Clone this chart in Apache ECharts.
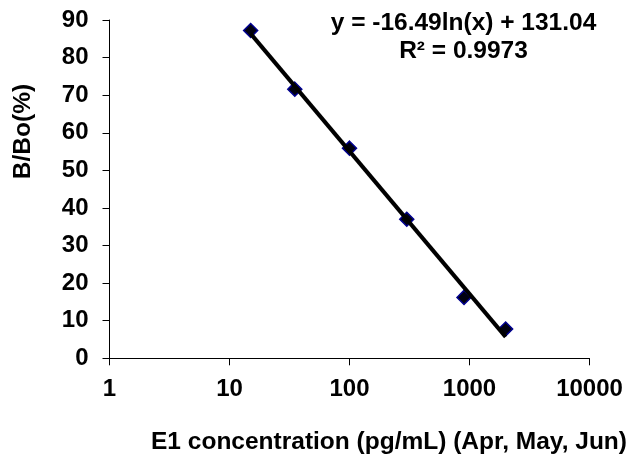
<!DOCTYPE html>
<html>
<head>
<meta charset="utf-8">
<script src="https://cdn.jsdelivr.net/npm/echarts@6/dist/echarts.min.js"></script>
<style>
  html, body { margin: 0; padding: 0; background: #fff; }
  #chart { width: 635px; height: 461px; }
</style>
</head>
<body>
<div id="chart"></div>
<script>
// Standard curve: E1 concentration vs. B/Bo
const concentrations = [15, 35, 100, 300, 900, 2000];
const bBoPercent = [87.2, 71.6, 55.9, 37.0, 16.2, 7.8];
const xTickLabels = ['1', '10', '100', '1000', '10000'];
const yTickLabels = ['0', '10', '20', '30', '40', '50', '60', '70', '80', '90'];

// Logarithmic fit y = a*ln(x) + b
const fitSlope = -16.49;
const fitIntercept = 131.04;
const fitR2 = 0.9973;

const FONT = '"Liberation Sans", Arial, sans-serif';
const TITLE_FONT = 'bold 24.5px ' + FONT;

const xMin = Math.min(...concentrations);
const xMax = Math.max(...concentrations);
const fitLine = [xMin, xMax].map(x => [x, fitSlope * Math.log(x) + fitIntercept]);

const chart = echarts.init(document.getElementById('chart'), null, { renderer: 'canvas' });
chart.setOption({
  animation: false,
  backgroundColor: '#fff',
  grid: { left: 109.5, right: 45.5, top: 20, bottom: 102.7, containLabel: false },
  xAxis: {
    type: 'log',
    logBase: 10,
    min: 1,
    max: 10000,
    axisLine: { show: true, lineStyle: { color: '#000', width: 1 } },
    axisTick: { show: true, inside: false, length: 7, lineStyle: { color: '#000', width: 1 } },
    minorTick: { show: false },
    splitLine: { show: false },
    axisLabel: {
      margin: 19,
      color: '#000',
      fontFamily: FONT,
      fontWeight: 'bold',
      fontSize: 24,
      formatter: v => xTickLabels[Math.round(Math.log10(v))]
    }
  },
  yAxis: {
    type: 'value',
    min: 0,
    max: 90,
    interval: 10,
    axisLine: { show: true, lineStyle: { color: '#000', width: 1 } },
    axisTick: { show: true, inside: false, length: 7, lineStyle: { color: '#000', width: 1 } },
    splitLine: { show: false },
    axisLabel: {
      margin: 21,
      color: '#000',
      fontFamily: FONT,
      fontWeight: 'bold',
      fontSize: 24,
      formatter: v => yTickLabels[Math.round(v / 10)]
    }
  },
  graphic: [
    {
      type: 'text', z: 100,
      style: {
        text: 'y = -' + Math.abs(fitSlope).toFixed(2) + 'ln(x) + ' + fitIntercept.toFixed(2),
        x: 463.5, y: 23,
        textAlign: 'center', textVerticalAlign: 'middle',
        fill: '#000', font: TITLE_FONT
      }
    },
    {
      type: 'text', z: 100,
      style: {
        text: 'R² = ' + fitR2.toFixed(4),
        x: 463.5, y: 51,
        textAlign: 'center', textVerticalAlign: 'middle',
        fill: '#000', font: TITLE_FONT
      }
    },
    {
      type: 'text', z: 100,
      style: {
        text: 'E1 concentration (pg/mL) (Apr, May, Jun)',
        x: 389, y: 442,
        textAlign: 'center', textVerticalAlign: 'middle',
        fill: '#000', font: TITLE_FONT
      }
    },
    {
      type: 'text', z: 100,
      x: 23, y: 131.5, rotation: Math.PI / 2,
      style: {
        text: 'B/Bo(%)',
        x: 0, y: 0,
        textAlign: 'center', textVerticalAlign: 'middle',
        fill: '#000', font: TITLE_FONT
      }
    }
  ],
  series: [
    {
      name: 'B/Bo',
      type: 'scatter',
      data: concentrations.map((c, i) => [c, bBoPercent[i]]),
      symbol: 'diamond',
      symbolSize: [14, 14],
      itemStyle: { color: '#000010', borderColor: '#000090', borderWidth: 1.5, opacity: 1 },
      z: 2
    },
    {
      name: 'Log fit',
      type: 'line',
      data: fitLine,
      symbol: 'none',
      lineStyle: { color: '#000', width: 4 },
      z: 3
    }
  ]
});
</script>
</body>
</html>
